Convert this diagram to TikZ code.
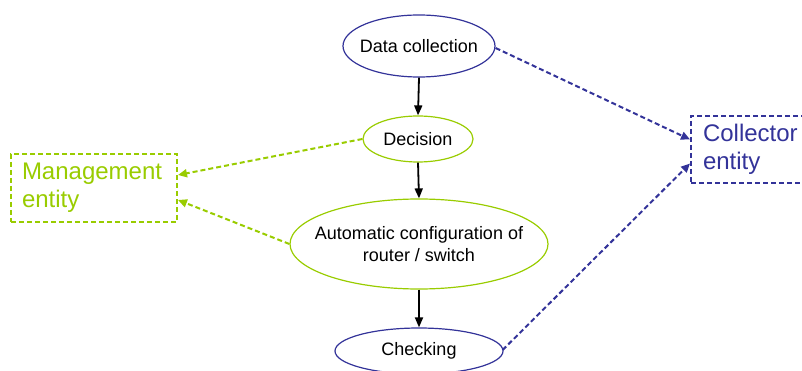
\documentclass[tikz,border=0pt]{standalone}
\usepackage{fontspec}
\setmainfont{Liberation Sans}
\usetikzlibrary{shapes.geometric,arrows.meta}
\definecolor{lgreen}{HTML}{99CC00}
\definecolor{dblue}{HTML}{333399}
\tikzset{
  proc/.style={ellipse, draw=#1, line width=1.2pt, inner sep=-30pt, align=center, font=\fontsize{18pt}{21.6pt}\selectfont, text=black},
  flow/.style={line width=1.8pt, -{Triangle[length=10pt,width=8pt]}},
  dlink/.style={draw=#1, line width=2pt, dash pattern=on 5pt off 3pt, -{Triangle[length=9pt,width=8pt]}},
  entity/.style={draw=#1, text=#1, line width=2pt, dash pattern=on 5pt off 3pt, rectangle, align=left, font=\fontsize{24pt}{28pt}\selectfont, inner ysep=0pt}
}
\begin{document}
\begin{tikzpicture}[x=1pt,y=-1pt]
\clip (0,0) rectangle (802,371);
\node[proc=dblue, minimum width=152pt, minimum height=62pt] (dc) at (419,46) {Data collection};
\node[proc=lgreen, minimum width=110pt, minimum height=46pt] (dec) at (418,139) {Decision};
\node[proc=lgreen, minimum width=258pt, minimum height=90pt] (auto) at (419,244) {Automatic configuration of\\router / switch};
\node[proc=dblue, minimum width=168pt, minimum height=46pt] (chk) at (419,351) {Checking};
\node[entity=lgreen, minimum width=166pt, minimum height=68pt, text width=144pt, inner xsep=11pt] (mg) at (94,188) {Management\\entity};
\node[entity=dblue, minimum width=140pt, minimum height=67pt, text width=116pt, inner xsep=12pt] (col) at (761,149.5) {Collector\\entity};
\draw[flow] (dc.south) -- (dec.north);
\draw[flow] (dec.south) -- (auto.north);
\draw[flow] (auto.south) -- (chk.north);
\draw[dlink=dblue] ([yshift=-2pt]dc.east) -- ([yshift=10pt]col.west);
\draw[dlink=dblue] ([shift={(-1pt,1pt)}]chk.east) -- ([yshift=-14pt]col.west);
\draw[dlink=lgreen] (dec.west) -- ([yshift=13pt]mg.east);
\draw[dlink=lgreen] (auto.west) -- ([yshift=-12pt]mg.east);
\end{tikzpicture}
\end{document}
